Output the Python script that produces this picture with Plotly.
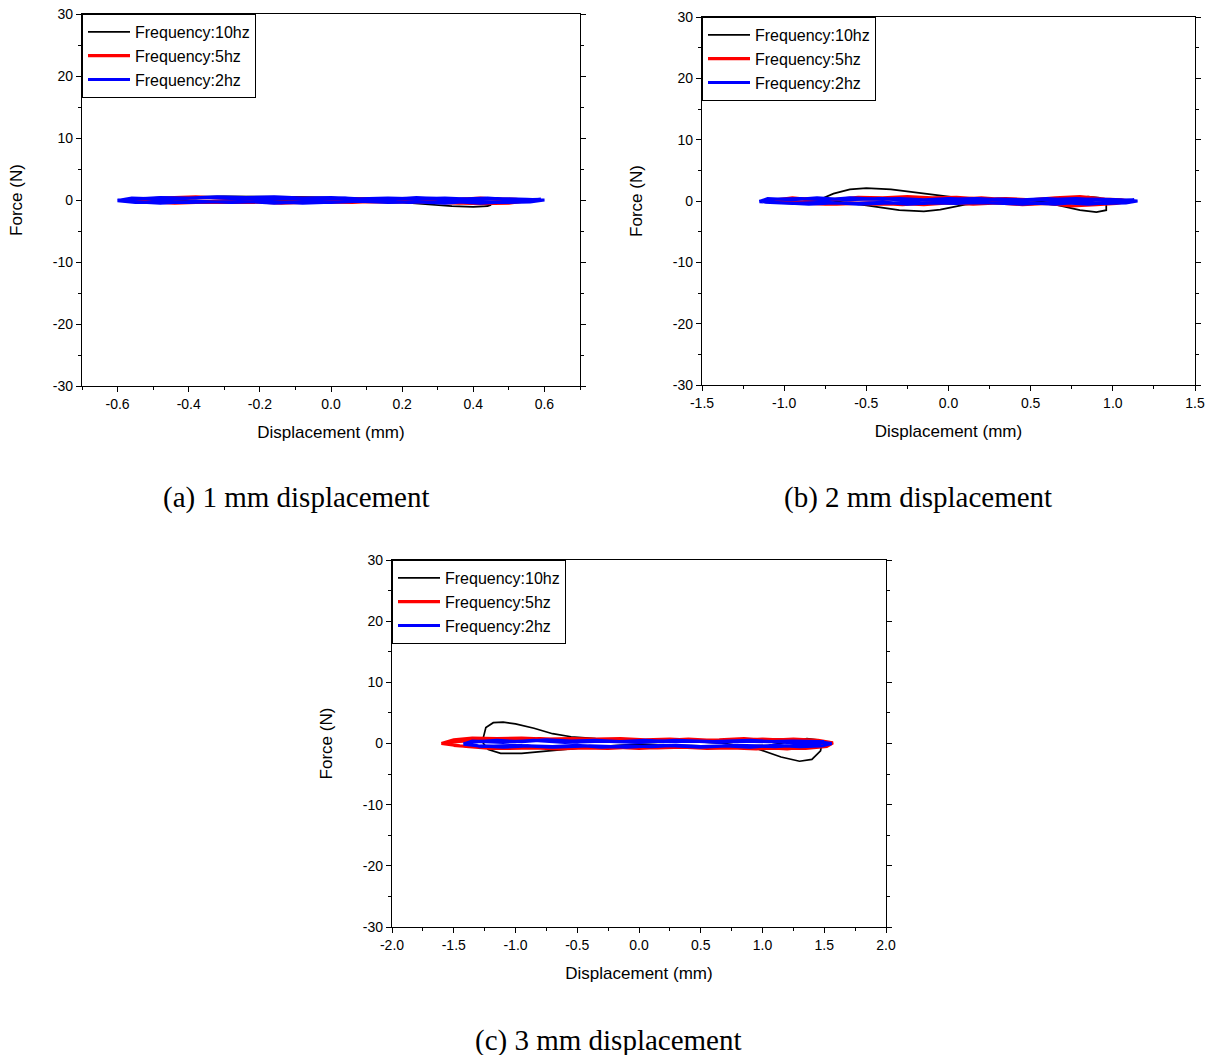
import plotly.graph_objects as go

# ---- data: (displacement mm, force N) ----
# (a) 1 mm displacement
a_10hz = [(-0.50, 0.1), (-0.45, 0.3), (-0.38, 0.5), (-0.30, 0.6), (-0.20, 0.6), (-0.10, 0.5),
          (0.00, 0.4), (0.10, 0.3), (0.20, 0.2), (0.30, 0.0), (0.37, -0.3), (0.42, -0.6),
          (0.45, -0.8), (0.44, -1.0), (0.40, -1.1), (0.34, -1.0), (0.28, -0.7), (0.20, -0.4),
          (0.10, -0.3), (0.00, -0.2), (-0.10, -0.2), (-0.20, -0.1), (-0.30, -0.2), (-0.40, -0.1),
          (-0.47, 0.0), (-0.50, 0.1)]
a_5hz = [(-0.55, 0.0), (-0.50, 0.2), (-0.42, 0.3), (-0.35, 0.4), (-0.25, 0.4), (-0.15, 0.3),
         (-0.05, 0.3), (0.05, 0.2), (0.15, 0.2), (0.25, 0.1), (0.35, 0.1), (0.45, 0.2),
         (0.52, 0.1), (0.55, -0.1), (0.50, -0.5), (0.42, -0.6), (0.33, -0.4), (0.25, -0.3),
         (0.15, -0.3), (0.05, -0.2), (-0.05, -0.2), (-0.15, -0.3), (-0.25, -0.4), (-0.35, -0.4),
         (-0.45, -0.3), (-0.52, -0.2), (-0.55, 0.0), (-0.48, 0.3), (-0.38, 0.5), (-0.28, 0.2),
         (-0.18, 0.3), (-0.08, 0.2), (0.02, 0.1), (0.12, 0.1), (0.22, 0.2), (0.32, 0.0),
         (0.42, 0.3), (0.50, 0.0), (0.54, -0.2), (0.46, -0.4), (0.36, -0.5), (0.26, -0.3),
         (0.16, -0.1), (0.06, -0.4), (-0.04, -0.3), (-0.14, -0.5), (-0.24, -0.2), (-0.34, -0.3),
         (-0.44, -0.5), (-0.53, -0.2)]
a_2hz = [(-0.60, 0.0), (-0.55, 0.2), (-0.48, 0.4), (-0.40, 0.3), (-0.32, 0.5), (-0.24, 0.4),
         (-0.16, 0.5), (-0.08, 0.3), (0.00, 0.4), (0.08, 0.2), (0.16, 0.3), (0.24, 0.2),
         (0.32, 0.3), (0.40, 0.1), (0.48, 0.2), (0.55, 0.1), (0.60, 0.0), (0.56, -0.3),
         (0.48, -0.4), (0.40, -0.2), (0.32, -0.5), (0.24, -0.3), (0.16, -0.4), (0.08, -0.2),
         (0.00, -0.4), (-0.08, -0.3), (-0.16, -0.5), (-0.24, -0.2), (-0.32, -0.3), (-0.40, -0.4),
         (-0.48, -0.3), (-0.55, -0.4), (-0.60, -0.1), (-0.56, 0.3), (-0.46, 0.1), (-0.36, 0.4),
         (-0.26, 0.2), (-0.16, 0.3), (-0.06, 0.1), (0.04, 0.3), (0.14, 0.0), (0.24, 0.4),
         (0.34, 0.1), (0.44, 0.3), (0.52, 0.0), (0.59, 0.1), (0.52, -0.2), (0.42, -0.5),
         (0.32, -0.2), (0.22, -0.4), (0.12, -0.1), (0.02, -0.3), (-0.08, -0.5), (-0.18, -0.2),
         (-0.28, -0.4), (-0.38, -0.2), (-0.48, -0.5), (-0.58, -0.2)]

# (b) 2 mm displacement
b_10hz = [(-0.78, 0.3), (-0.70, 1.2), (-0.60, 1.9), (-0.50, 2.1), (-0.35, 1.9), (-0.20, 1.4),
          (-0.05, 0.9), (0.10, 0.4), (0.30, 0.0), (0.50, -0.2), (0.70, 0.2), (0.85, 0.7),
          (0.92, 0.5), (0.96, -0.5), (0.96, -1.5), (0.90, -1.8), (0.80, -1.5), (0.65, -0.6),
          (0.50, -0.3), (0.30, 0.0), (0.10, -0.6), (-0.05, -1.4), (-0.15, -1.7), (-0.30, -1.5),
          (-0.50, -0.7), (-0.68, 0.0), (-0.78, 0.3)]
b_5hz = [(-1.10, 0.0), (-1.00, 0.3), (-0.85, 0.4), (-0.70, 0.2), (-0.55, 0.6), (-0.40, 0.5),
         (-0.25, 0.7), (-0.10, 0.5), (0.05, 0.6), (0.20, 0.3), (0.35, 0.4), (0.50, 0.2),
         (0.65, 0.5), (0.80, 0.7), (0.95, 0.3), (1.05, 0.2), (1.10, 0.0), (1.02, -0.4),
         (0.90, -0.6), (0.75, -0.8), (0.60, -0.4), (0.45, -0.6), (0.30, -0.3), (0.15, -0.5),
         (0.00, -0.3), (-0.15, -0.6), (-0.30, -0.4), (-0.45, -0.5), (-0.60, -0.3), (-0.75, -0.5),
         (-0.90, -0.3), (-1.05, -0.2), (-1.10, 0.0), (-0.95, 0.5), (-0.80, 0.1), (-0.60, 0.4),
         (-0.40, 0.3), (-0.20, 0.5), (0.00, 0.2), (0.20, 0.5), (0.40, 0.1), (0.60, 0.3),
         (0.80, 0.5), (0.98, 0.1), (1.08, -0.2), (0.92, -0.4), (0.72, -0.2), (0.52, -0.5),
         (0.32, -0.2), (0.12, -0.4), (-0.08, -0.2), (-0.28, -0.6), (-0.48, -0.3), (-0.68, -0.5),
         (-0.88, -0.2), (-1.08, -0.1)]
b_2hz = [(-1.15, 0.0), (-1.05, 0.3), (-0.90, 0.4), (-0.75, 0.2), (-0.60, 0.5), (-0.45, 0.3),
         (-0.30, 0.4), (-0.15, 0.2), (0.00, 0.4), (0.15, 0.2), (0.30, 0.3), (0.45, 0.2),
         (0.60, 0.4), (0.75, 0.1), (0.90, 0.3), (1.05, 0.2), (1.15, 0.0), (1.08, -0.3),
         (0.95, -0.4), (0.80, -0.2), (0.65, -0.5), (0.50, -0.3), (0.35, -0.4), (0.20, -0.2),
         (0.05, -0.4), (-0.10, -0.3), (-0.25, -0.5), (-0.40, -0.2), (-0.55, -0.4), (-0.70, -0.3),
         (-0.85, -0.5), (-1.00, -0.3), (-1.15, -0.1), (-1.10, 0.4), (-0.95, 0.2), (-0.80, 0.5),
         (-0.62, 0.2), (-0.42, 0.4), (-0.22, 0.1), (-0.02, 0.3), (0.18, 0.4), (0.38, 0.1),
         (0.58, 0.3), (0.78, 0.4), (0.98, 0.1), (1.13, 0.2), (1.02, -0.2), (0.85, -0.5),
         (0.65, -0.2), (0.45, -0.5), (0.25, -0.3), (0.05, -0.1), (-0.15, -0.4), (-0.35, -0.3),
         (-0.55, -0.5), (-0.75, -0.2), (-0.95, -0.4), (-1.12, -0.2)]

# (c) 3 mm displacement
c_10hz = [(-1.26, 1.0), (-1.24, 2.6), (-1.18, 3.4), (-1.10, 3.5), (-1.00, 3.2), (-0.85, 2.5),
          (-0.70, 1.6), (-0.55, 1.1), (-0.35, 0.8), (0.00, 0.6), (0.40, 0.4), (0.70, 0.0),
          (0.95, -0.8), (1.15, -2.2), (1.30, -2.9), (1.40, -2.6), (1.47, -1.2), (1.48, 0.0),
          (1.44, 0.6), (1.36, 0.8), (1.25, 0.4), (1.05, -0.3), (0.70, -0.5), (0.30, -0.3),
          (0.00, -0.1), (-0.40, -0.6), (-0.75, -1.2), (-0.95, -1.6), (-1.12, -1.6), (-1.22, -1.0),
          (-1.26, 0.0), (-1.26, 1.0)]
c_5hz = [(-1.60, 0.0), (-1.50, 0.6), (-1.35, 0.9), (-1.15, 0.8), (-0.95, 0.9), (-0.75, 0.7),
         (-0.55, 0.8), (-0.35, 0.7), (-0.15, 0.8), (0.05, 0.6), (0.25, 0.7), (0.45, 0.5),
         (0.65, 0.6), (0.85, 0.8), (1.05, 0.5), (1.25, 0.7), (1.45, 0.5), (1.57, 0.1),
         (1.52, -0.5), (1.35, -0.8), (1.15, -0.6), (0.95, -0.9), (0.75, -0.7), (0.55, -0.8),
         (0.35, -0.6), (0.15, -0.7), (-0.05, -0.6), (-0.25, -0.8), (-0.45, -0.7), (-0.65, -0.9),
         (-0.85, -0.7), (-1.05, -0.8), (-1.25, -0.6), (-1.45, -0.4), (-1.60, 0.0), (-1.48, 0.3),
         (-1.28, 0.6), (-1.05, 0.5), (-0.80, 0.8), (-0.50, 0.5), (-0.20, 0.6), (0.10, 0.4),
         (0.40, 0.7), (0.70, 0.4), (1.00, 0.7), (1.30, 0.4), (1.55, 0.2), (1.45, -0.3),
         (1.20, -0.9), (0.90, -0.5), (0.60, -0.8), (0.30, -0.5), (0.00, -0.8), (-0.30, -0.5),
         (-0.60, -0.7), (-0.90, -0.5), (-1.20, -0.8), (-1.50, -0.3)]
c_2hz = [(-1.42, 0.0), (-1.30, 0.3), (-1.15, 0.5), (-0.95, 0.3), (-0.75, 0.6), (-0.55, 0.4),
         (-0.35, 0.5), (-0.15, 0.3), (0.05, 0.5), (0.25, 0.3), (0.45, 0.4), (0.65, 0.2),
         (0.85, 0.4), (1.05, 0.3), (1.25, 0.4), (1.45, 0.3), (1.56, 0.0), (1.48, -0.4),
         (1.30, -0.5), (1.10, -0.3), (0.90, -0.6), (0.70, -0.4), (0.50, -0.5), (0.30, -0.3),
         (0.10, -0.5), (-0.10, -0.4), (-0.30, -0.6), (-0.50, -0.3), (-0.70, -0.5), (-0.90, -0.4),
         (-1.10, -0.6), (-1.30, -0.4), (-1.42, -0.1), (-1.35, 0.4), (-1.10, 0.2), (-0.85, 0.5),
         (-0.60, 0.2), (-0.30, 0.4), (0.00, 0.2), (0.30, 0.5), (0.60, 0.3), (0.90, 0.5),
         (1.20, 0.2), (1.50, 0.3), (1.40, -0.2), (1.10, -0.5), (0.80, -0.3), (0.50, -0.6),
         (0.20, -0.3), (-0.10, -0.6), (-0.40, -0.4), (-0.70, -0.6), (-1.00, -0.3), (-1.30, -0.5)]

labels = ["Frequency:10hz", "Frequency:5hz", "Frequency:2hz"]
colors = ["black", "red", "blue"]
widths = [1.7, 3.2, 3.2]
panel_titles = ["(a) 1 mm displacement", "(b) 2 mm displacement", "(c) 3 mm displacement"]

a_xticks = [-0.6, -0.4, -0.2, 0.0, 0.2, 0.4, 0.6]
b_xticks = [-1.5, -1.0, -0.5, 0.0, 0.5, 1.0, 1.5]
c_xticks = [-2.0, -1.5, -1.0, -0.5, 0.0, 0.5, 1.0, 1.5, 2.0]
y_ticks = [-30, -20, -10, 0, 10, 20, 30]

W, H = 1216, 1055
# plot boxes in pixels (left, right, top, bottom)
boxes = [(82, 580, 14, 386), (702, 1195, 17, 385), (392, 886, 560, 927)]
xranges = [[-0.7, 0.7], [-1.5, 1.5], [-2.0, 2.0]]
xticks = [a_xticks, b_xticks, c_xticks]
xminor = [0.1, 0.25, 0.25]
title_pos = [(296, 497), (918, 497), (608, 1040)]

panels = [[a_10hz, a_5hz, a_2hz], [b_10hz, b_5hz, b_2hz], [c_10hz, c_5hz, c_2hz]]

font = "Liberation Sans, Arial, sans-serif"
fig = go.Figure()

for i, series in enumerate(panels):
    suffix = "" if i == 0 else str(i + 1)
    for j, pts in enumerate(series):
        xs, ys = zip(*pts)
        fig.add_trace(go.Scatter(
            x=list(xs), y=list(ys), mode="lines", name=labels[j],
            line=dict(color=colors[j], width=widths[j]),
            xaxis="x" + suffix, yaxis="y" + suffix,
            legend="legend" + suffix,
        ))

    l, r, t, b = boxes[i]
    xd = [l / W, r / W]
    yd = [1 - b / H, 1 - t / H]
    fig.update_layout(**{
        "xaxis" + suffix: dict(
            domain=xd, range=xranges[i], anchor="y" + suffix, automargin=False,
            tickmode="array", tickvals=xticks[i], ticktext=[f"{v:.1f}" for v in xticks[i]],
            ticks="outside", ticklen=5, tickcolor="black",
            minor=dict(ticks="outside", ticklen=3, tick0=0, dtick=xminor[i], tickcolor="black"),
            showline=True, linecolor="black", linewidth=1.3, mirror=True,
            showgrid=False, zeroline=False,
            tickfont=dict(size=14, color="black", family=font),
            title=dict(text="Displacement (mm)", standoff=15,
                       font=dict(size=17, color="black", family=font)),
        ),
        "yaxis" + suffix: dict(
            domain=yd, range=[-30, 30], anchor="x" + suffix, automargin=False,
            tickmode="array", tickvals=y_ticks, ticktext=[str(v) for v in y_ticks],
            ticks="outside", ticklen=5, tickcolor="black",
            minor=dict(ticks="outside", ticklen=3, tick0=0, dtick=5, tickcolor="black"),
            showline=True, linecolor="black", linewidth=1.3, mirror="ticks",
            showgrid=False, zeroline=False,
            tickfont=dict(size=14, color="black", family=font),
            title=dict(text="Force (N)", standoff=25,
                       font=dict(size=17, color="black", family=font)),
        ),
        "legend" + suffix: dict(
            x=xd[0], y=yd[1], xanchor="left", yanchor="top",
            bgcolor="white", bordercolor="black", borderwidth=1,
            font=dict(size=16, color="black", family=font),
            tracegroupgap=0, itemwidth=42,
        ),
    })
    tx, ty = title_pos[i]
    fig.add_annotation(
        text=panel_titles[i], x=tx / W, y=1 - ty / H, xref="paper", yref="paper",
        showarrow=False, xanchor="center", yanchor="middle",
        font=dict(size=29, color="black", family="Liberation Serif, Times New Roman, serif"),
    )

fig.update_layout(
    width=W, height=H, margin=dict(l=0, r=0, t=0, b=0),
    paper_bgcolor="white", plot_bgcolor="white", showlegend=True,
)

# drop the default page margin so the figure sits at the window's corner
fig.write_html("out.html", config={"displayModeBar": False},
               post_script="document.body.style.margin='0px';")
